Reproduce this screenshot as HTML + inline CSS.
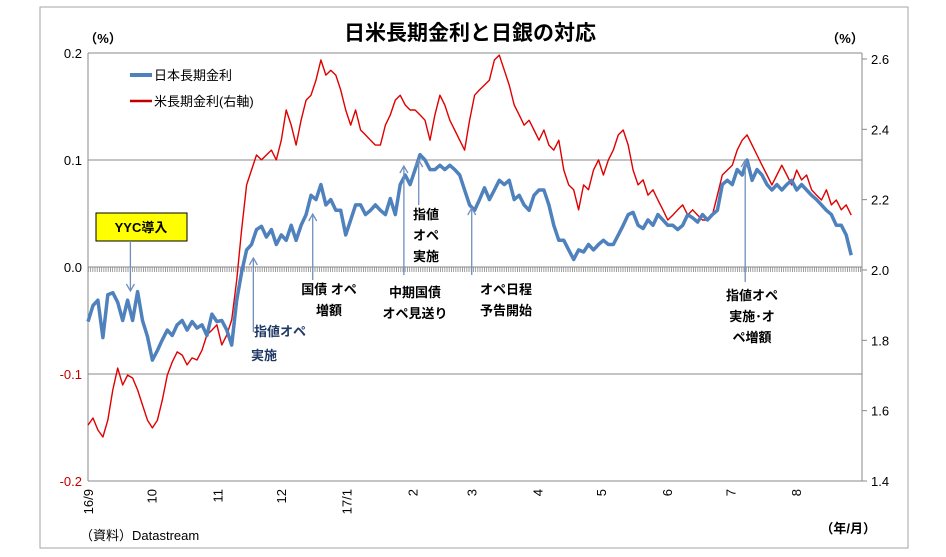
<!DOCTYPE html>
<html><head><meta charset="utf-8"><style>
html,body{margin:0;padding:0;background:#fff;}
svg{display:block;font-family:"Liberation Sans","Noto Sans CJK JP",sans-serif;}
</style></head><body>
<svg id="chart" width="946" height="557" viewBox="0 0 946 557" xmlns="http://www.w3.org/2000/svg">
<rect x="40" y="7" width="868" height="541" fill="#fff" stroke="#a6a6a6" stroke-width="1"/>
<text x="470" y="40" font-size="21" font-weight="bold" text-anchor="middle">日米長期金利と日銀の対応</text>
<text x="103" y="43" font-size="13" font-weight="bold" text-anchor="middle">（%）</text>
<text x="845" y="43" font-size="13" font-weight="bold" text-anchor="middle">（%）</text>
<pattern id="hatch" width="2.2" height="6" patternUnits="userSpaceOnUse"><rect width="0.8" height="6" fill="#888"/></pattern>
<rect x="88" y="267" width="774" height="5" fill="url(#hatch)"/>
<g id="grid"></g>
<g id="axes"></g>
<g id="series"></g>
<g>
 <line x1="130" y1="75" x2="152" y2="75" stroke="#4f81bd" stroke-width="4"/>
 <text x="154" y="80" font-size="13">日本長期金利</text>
 <line x1="130" y1="101" x2="152" y2="101" stroke="#c00000" stroke-width="2.5"/>
 <text x="154" y="106" font-size="13">米長期金利(右軸)</text>
</g>
<g id="annotations">
 <rect x="96" y="213" width="91" height="28" fill="#ffff00" stroke="#000" stroke-width="1"/>
 <text x="141" y="232" font-size="13" font-weight="bold" text-anchor="middle">YYC導入</text>
 <g font-size="13" font-weight="bold" text-anchor="middle" fill="#000">
  <text fill="#1f3864"><tspan x="280" y="336">指値オペ</tspan><tspan x="264" y="360">実施</tspan></text>
  <text><tspan x="329" y="294">国債 オペ</tspan><tspan x="329" y="315">増額</tspan></text>
  <text><tspan x="415" y="297">中期国債</tspan><tspan x="415" y="318">オペ見送り</tspan></text>
  <text><tspan x="506" y="294">オペ日程</tspan><tspan x="506" y="315">予告開始</tspan></text>
  <text><tspan x="426" y="219">指値</tspan><tspan x="426" y="240">オペ</tspan><tspan x="426" y="261">実施</tspan></text>
  <text><tspan x="752" y="300">指値オペ</tspan><tspan x="752" y="321">実施･オ</tspan><tspan x="752" y="342">ペ増額</tspan></text>
 </g>
</g>
<text x="80" y="540" font-size="13">（資料）Datastream</text>
<text x="876" y="533" font-size="13" font-weight="bold" text-anchor="end">（年/月）</text>
</svg>
<script>
const jpRates=[-0.051,-0.036,-0.031,-0.066,-0.026,-0.024,-0.033,-0.050,-0.031,-0.050,-0.023,-0.050,-0.065,-0.087,-0.078,-0.068,-0.059,-0.064,-0.054,-0.050,-0.059,-0.051,-0.057,-0.054,-0.064,-0.044,-0.051,-0.050,-0.059,-0.073,-0.031,-0.005,0.016,0.021,0.035,0.038,0.028,0.035,0.021,0.030,0.025,0.039,0.025,0.039,0.049,0.067,0.063,0.077,0.058,0.063,0.053,0.053,0.030,0.044,0.058,0.058,0.049,0.053,0.058,0.053,0.049,0.064,0.049,0.077,0.086,0.077,0.091,0.105,0.100,0.091,0.091,0.095,0.091,0.095,0.091,0.086,0.072,0.058,0.053,0.063,0.074,0.063,0.072,0.081,0.077,0.081,0.063,0.067,0.058,0.053,0.067,0.072,0.072,0.058,0.039,0.025,0.025,0.016,0.007,0.016,0.014,0.021,0.016,0.021,0.025,0.021,0.021,0.030,0.039,0.049,0.051,0.039,0.036,0.044,0.039,0.049,0.044,0.039,0.039,0.035,0.039,0.049,0.046,0.042,0.049,0.044,0.049,0.053,0.077,0.081,0.077,0.091,0.086,0.100,0.081,0.091,0.086,0.077,0.072,0.077,0.072,0.077,0.081,0.072,0.077,0.072,0.067,0.063,0.058,0.053,0.049,0.039,0.039,0.030,0.011];
const usRates=[1.559,1.579,1.545,1.525,1.573,1.659,1.721,1.673,1.701,1.693,1.659,1.616,1.573,1.551,1.573,1.630,1.701,1.738,1.767,1.758,1.730,1.750,1.744,1.772,1.815,1.829,1.844,1.787,1.815,1.858,1.971,2.114,2.242,2.284,2.327,2.313,2.327,2.341,2.313,2.369,2.455,2.412,2.355,2.426,2.483,2.497,2.540,2.597,2.554,2.568,2.554,2.512,2.455,2.412,2.455,2.398,2.384,2.369,2.355,2.355,2.412,2.441,2.483,2.497,2.469,2.455,2.455,2.441,2.426,2.369,2.441,2.497,2.469,2.426,2.398,2.369,2.341,2.426,2.497,2.512,2.526,2.540,2.597,2.611,2.568,2.526,2.469,2.441,2.412,2.426,2.398,2.369,2.398,2.355,2.341,2.369,2.284,2.242,2.228,2.171,2.242,2.228,2.284,2.313,2.270,2.313,2.341,2.384,2.398,2.355,2.284,2.242,2.256,2.213,2.228,2.199,2.171,2.142,2.156,2.171,2.185,2.156,2.171,2.156,2.142,2.142,2.156,2.213,2.270,2.284,2.298,2.341,2.369,2.384,2.355,2.327,2.298,2.270,2.242,2.270,2.298,2.270,2.242,2.284,2.256,2.270,2.228,2.213,2.199,2.228,2.185,2.199,2.171,2.185,2.156];
const leftTicks=[0.2,0.1,0.0,-0.1,-0.2];
const leftTickLabels=["0.2","0.1","0.0","-0.1","-0.2"];
const rightTicks=[2.6,2.4,2.2,2.0,1.8,1.6,1.4];
const rightTickLabels=["2.6","2.4","2.2","2.0","1.8","1.6","1.4"];
const monthDays=[0,30,61,91,122,153,181,212,242,273,303,334];
const monthLabels=["16/9","10","11","12","17/1","2","3","4","5","6","7","8"];
const seriesStartDay=0, seriesEndDay=360;
const annotationDays=[20,78,106,149,156,181,310];

const NS="http://www.w3.org/2000/svg";
const X0=88,X1=862,PX_PER_DAY=2.12;
const xDay=d=>X0+d*PX_PER_DAY;
const yL=v=>267-v*1070;
const yR=v=>481-(v-1.4)*351.7;
function mk(tag,attrs,parent){const e=document.createElementNS(NS,tag);for(const k in attrs)e.setAttribute(k,attrs[k]);parent.appendChild(e);return e;}
const grid=document.getElementById('grid'),axes=document.getElementById('axes'),series=document.getElementById('series'),ann=document.getElementById('annotations');

leftTicks.forEach((v,i)=>{
  const y=yL(v);
  if(v>-0.2){const g=mk('line',{x1:X0,y1:y,x2:X1,y2:y,stroke:'#888','stroke-width':1},grid);
  
  }
  const t=mk('text',{x:X0-6,y:y+5,'font-size':13,'text-anchor':'end',fill:v<0?'#c00000':'#000'},axes);
  t.textContent=leftTickLabels[i];
  
  
});
rightTicks.forEach((v,i)=>{
  const y=yR(v);
  const l=mk('line',{x1:X1,y1:y,x2:X1+5,y2:y,stroke:'#888'},axes);
  
  
  const t=mk('text',{x:X1+9,y:y+5,'font-size':13},axes);
  t.textContent=rightTickLabels[i];
  
  
});
let a=mk('line',{x1:X0,y1:yL(0.2),x2:X0,y2:yL(-0.2),stroke:'#888'},axes);


a=mk('line',{x1:X1,y1:yL(0.2),x2:X1,y2:yL(-0.2),stroke:'#888'},axes);


a=mk('line',{x1:X0,y1:yL(-0.2),x2:X1,y2:yL(-0.2),stroke:'#888'},axes);


monthDays.forEach((d,i)=>{
  const x=xDay(d);
  const t=mk('text',{x:0,y:0,'font-size':13,'text-anchor':'end',transform:`translate(${x+5},${yL(-0.2)+8}) rotate(-90)`},axes);
  t.textContent=monthLabels[i];
  
  
});
function path(vals,yf){const n=vals.length;return vals.map((v,i)=>{const d=seriesStartDay+(seriesEndDay-seriesStartDay)*i/(n-1);return (i?'L':'M')+xDay(d).toFixed(1)+','+yf(v).toFixed(1);}).join('');}
const us=mk('path',{d:path(usRates,yR),fill:'none',stroke:'#e00000','stroke-width':1.4,'stroke-linejoin':'round'},series);


const jp=mk('path',{d:path(jpRates,yL),fill:'none',stroke:'#4f81bd','stroke-width':3.5,'stroke-linejoin':'round'},series);



const arrowSpec=[[241,291,1],[332,258,-1],[280,214,-1],[275,166,-1],[205,160,-1],[275,208,-1],[282,160,-1]];
annotationDays.forEach((d,i)=>{
  const x=xDay(d),[y1,y2,dir]=arrowSpec[i];
  const l=mk('line',{x1:x,y1:y1,x2:x,y2:y2,stroke:'#6f8fbf','stroke-width':1.3},ann);
  
  
  const h=mk('path',{d:`M${x-4},${y2-dir*7}L${x},${y2}L${x+4},${y2-dir*7}`,fill:'none',stroke:'#6f8fbf','stroke-width':1.3},ann);
  
  
});
</script>
</body></html>
